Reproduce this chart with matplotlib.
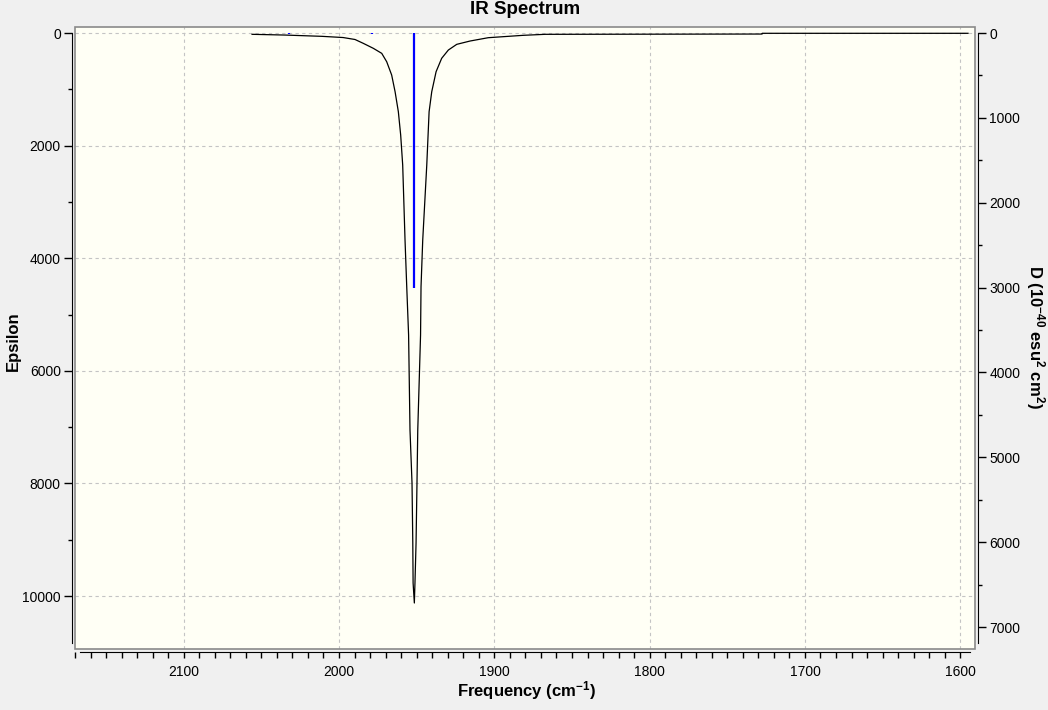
import matplotlib
matplotlib.use("Agg")
import matplotlib.pyplot as plt
from matplotlib.ticker import MultipleLocator
from matplotlib.patches import Rectangle

# spectrum (frequency in cm-1, epsilon)
freq = [2056.0, 2034.8, 2010.9, 1997.4, 1989.7, 1984.4, 1977.9, 1972.5, 1969.3, 1966.1,
        1963.9, 1961.8, 1960.3, 1959.0, 1957.5, 1956.4, 1955.2, 1954.3, 1953.0, 1952.5,
        1952.3, 1951.5, 1951.1, 1950.4, 1949.8, 1949.3, 1947.5, 1947.2, 1946.1, 1943.5,
        1942.0, 1940.3, 1937.5, 1933.9, 1929.6, 1924.2, 1915.6, 1903.9, 1881.5, 1867.4,
        1727.6, 1727.5, 1595.0]
epsilon = [23, 36, 59, 80, 115, 183, 272, 361, 510, 746,
           1043, 1398, 1812, 2345, 3677, 4506, 5364, 7051, 7993, 9059,
           9769, 10124, 9769, 9059, 7993, 7051, 5364, 4506, 3677, 2345,
           1398, 1043, 687, 449, 302, 201, 142, 83, 41, 23,
           18, 5, 5]

# stick spectrum (dipole strength, right axis)
stick_freq = [2032.0, 1978.7, 1951.5]
stick_d = [6, 6, 3010]

plt.rcParams['font.family'] = ['Liberation Sans', 'DejaVu Sans']
plt.rcParams['mathtext.fontset'] = 'custom'
plt.rcParams['mathtext.rm'] = 'Liberation Sans:bold'
plt.rcParams['mathtext.default'] = 'rm'

W, H = 1048, 710
fig = plt.figure(figsize=(W / 100, H / 100), dpi=100, facecolor='#f0f0f0')
ax = fig.add_axes([75 / W, 1 - 649 / H, 900 / W, 622 / H])
ax.set_facecolor('#fffff5')

ax.plot(freq, epsilon, color='black', lw=0.9, zorder=3)
ax.set_xlim(2170, 1590.5)
ax.set_ylim(10941, -107)

ax.xaxis.set_major_locator(MultipleLocator(100))
ax.xaxis.set_minor_locator(MultipleLocator(10))
ax.yaxis.set_major_locator(MultipleLocator(2000))
ax.yaxis.set_minor_locator(MultipleLocator(1000))
ax.grid(True, which='major', color='#c4c4c4', linestyle=(0, (3, 3)), lw=0.8)
ax.set_axisbelow(True)

for s in ['top', 'right']:
    ax.spines[s].set_visible(False)
ax.spines['left'].set_position(('outward', 2.2))
ax.spines['bottom'].set_position(('outward', 2.2))
ax.spines['left'].set_bounds(10835, 0)
ax.spines['bottom'].set_bounds(2166.8, 1593.7)
ax.yaxis.set_ticks_position('left')
ax.xaxis.set_ticks_position('bottom')
ax.tick_params(axis='y', which='major', length=6, width=1, pad=2, labelsize=10)
ax.tick_params(axis='y', which='minor', length=3, width=1)
ax.tick_params(axis='x', which='both', length=4.5, width=1, pad=5, labelsize=10)

ax2 = ax.twinx()
ax2.vlines(stick_freq, 0, stick_d, color='#0000ff', lw=1.6, zorder=4)
ax2.set_ylim(7259, -71)
ax2.yaxis.set_major_locator(MultipleLocator(1000))
ax2.yaxis.set_minor_locator(MultipleLocator(500))
for s in ['top', 'left', 'bottom']:
    ax2.spines[s].set_visible(False)
ax2.spines['right'].set_position(('outward', 2.2))
ax2.spines['right'].set_bounds(0, 7188)
ax2.tick_params(axis='y', which='major', length=6, width=1, pad=2, labelsize=10)
ax2.tick_params(axis='y', which='minor', length=3, width=1)

ax2.add_patch(Rectangle((0, 0), 1, 1, transform=ax.transAxes, fill=False,
                        edgecolor='#8a8a8a', lw=1.2, clip_on=False, zorder=5))

fig.text(525 / W, 1 - 10 / H, 'IR Spectrum', ha='center', va='center',
         fontsize=13.5, fontweight='bold')
fig.text(526 / W, 1 - 691 / H, 'Frequency (cm$^{-1}$)', ha='center', va='center',
         fontsize=12, fontweight='bold')
fig.text(13 / W, 1 - 341 / H, 'Epsilon', ha='center', va='center', rotation=90,
         fontsize=12, fontweight='bold')
fig.text(1035 / W, 1 - 337 / H, 'D (10$^{-40}$ esu$^{2}$ cm$^{2}$)', ha='center',
         va='center', rotation=-90, fontsize=12, fontweight='bold')

fig.savefig('out.png', dpi=100, facecolor=fig.get_facecolor())
